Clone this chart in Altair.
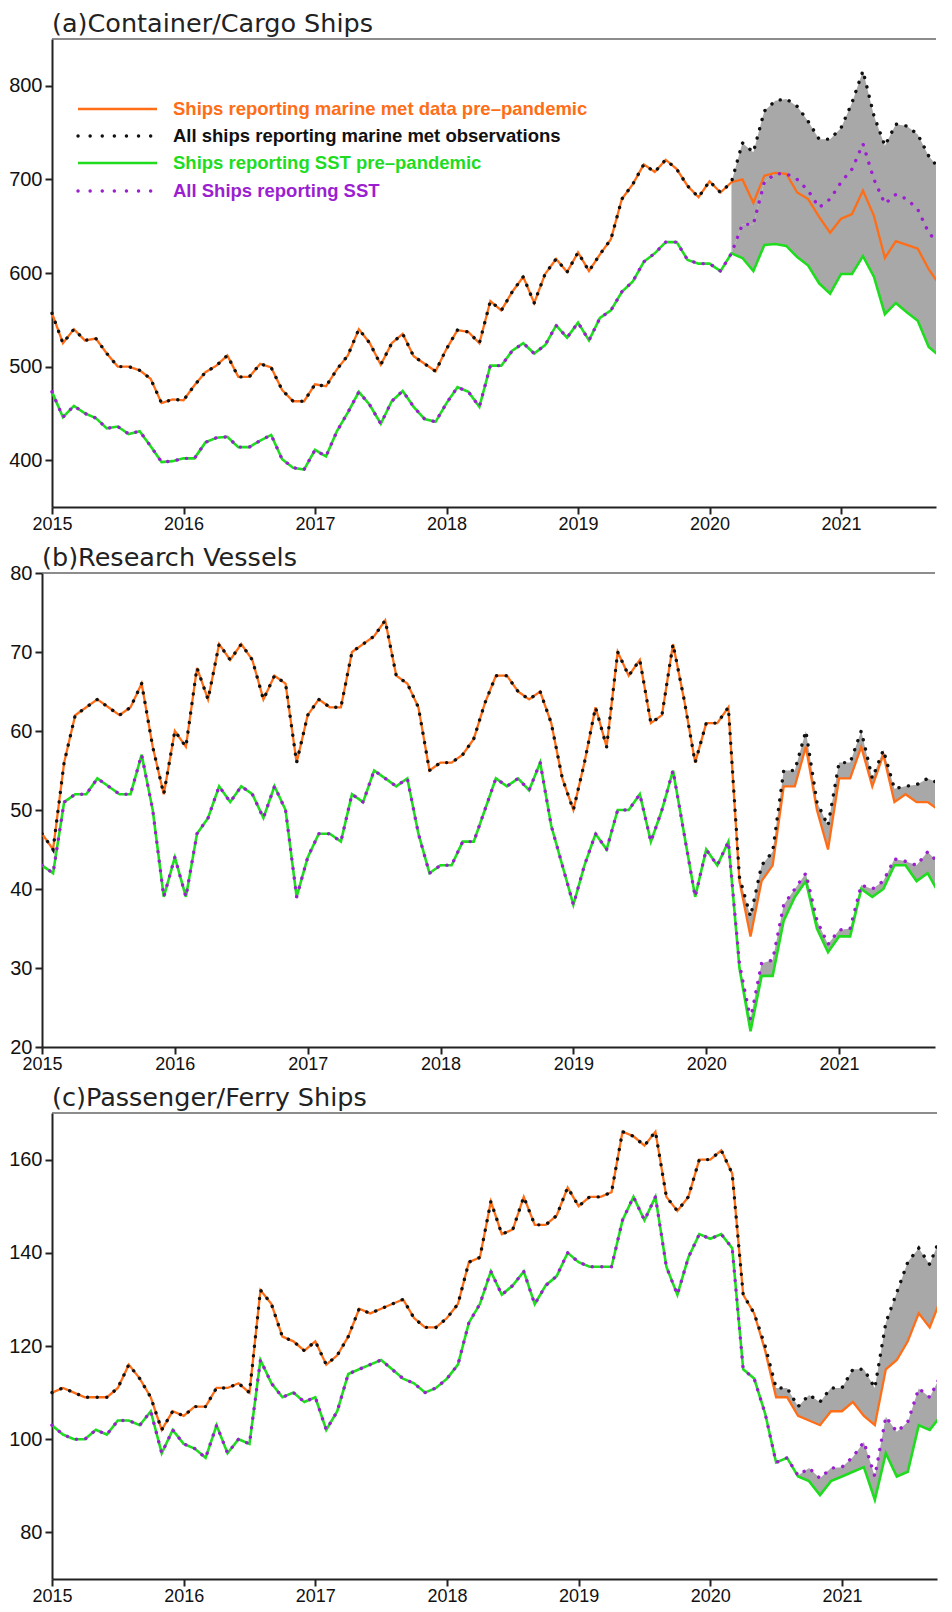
import altair as alt
import pandas as pd

N = 83
MONTH_T = [2015 + i / 12 for i in range(N)]
YEAR_TICKS = [2015, 2016, 2017, 2018, 2019, 2020, 2021]
X_END = 2021.722  # right edge of the visible plot (the figure is cropped there)
SPLIT = 63  # first month where "all ships" differs from pre-pandemic ships

# ---------------- (a) Container/Cargo Ships ----------------
A_PRE_MET = [557, 525, 540, 528, 530, 514, 500, 500, 496, 487, 461, 465,
             464, 480, 494, 501, 512, 489, 489, 503, 499, 475, 463, 463,
             481, 479, 497, 512, 540, 525, 502, 525, 535, 511, 503, 495,
             519, 539, 537, 525, 570, 560, 580, 596, 568, 599, 615, 601,
             622, 602, 620, 636, 679, 695, 716, 708, 721, 711, 693, 681,
             698, 686, 697, 700, 675, 704, 707, 706, 686, 679, 660, 643,
             658, 663, 688, 661, 616, 634, 630, 626, 604, 587, 571]
A_ALL_MET_TAIL = [739, 729, 773, 784, 786, 778, 762, 743, 743, 755, 782, 816,
                  768, 736, 759, 757, 748, 725, 711, 707]
A_PRE_SST = [473, 446, 458, 450, 445, 434, 436, 428, 431, 415, 398, 399,
             402, 402, 419, 424, 425, 414, 414, 421, 427, 401, 392, 390,
             411, 404, 431, 451, 473, 459, 439, 463, 474, 457, 444, 441,
             461, 478, 473, 457, 501, 501, 517, 525, 514, 523, 544, 531,
             547, 528, 552, 560, 580, 591, 612, 621, 633, 633, 614, 610,
             610, 602, 621, 616, 602, 630, 631, 629, 617, 608, 589, 578,
             599, 599, 618, 596, 556, 568, 558, 549, 521, 511, 497]
A_ALL_SST_TAIL = [652, 652, 697, 706, 706, 700, 688, 670, 679, 697, 711, 738,
                  700, 674, 684, 679, 668, 643, 630, 620]

# ---------------- (b) Research Vessels ----------------
B_PRE_MET = [47, 45, 56, 62, 63, 64, 63, 62, 63, 66, 58, 52,
             60, 58, 68, 64, 71, 69, 71, 69, 64, 67, 66, 56,
             62, 64, 63, 63, 70, 71, 72, 74, 67, 66, 63, 55,
             56, 56, 57, 59, 63.5, 67, 67, 65, 64, 65, 61, 54,
             50, 56, 63, 58, 70, 67, 69, 61, 62, 71, 64, 56,
             61, 61, 63, 41, 34, 41, 43, 53, 53, 58, 50, 45,
             54, 54, 58, 53, 57, 51, 52, 51, 51, 50, 49.5]
B_ALL_MET_TAIL = [41.5, 36.5, 43, 44.7, 55, 55, 60, 51, 48, 56, 56, 60,
                  54, 57.6, 52.7, 53, 53.2, 54, 53.4, 52]
B_PRE_SST = [43, 42, 51, 52, 52, 54, 53, 52, 52, 57, 50, 39,
             44, 39, 47, 49, 53, 51, 53, 52, 49, 53, 50, 39,
             44, 47, 47, 46, 52, 51, 55, 54, 53, 54, 47, 42,
             43, 43, 46, 46, 50, 54, 53, 54, 52.5, 56, 48, 43,
             38, 43, 47, 45, 50, 50, 52, 46, 50, 55, 47, 39,
             45, 43, 46, 30, 22, 29, 29, 36, 39, 41, 35, 32,
             34, 34, 40, 39, 40, 43, 43, 41, 42, 39.5, 31]
B_ALL_SST_TAIL = [30.5, 23.5, 30.6, 31, 38, 40, 42, 36, 33, 34.8, 35, 40.5,
                  40, 41, 43.8, 43.5, 43, 44.7, 43.3, 34]

# ---------------- (c) Passenger/Ferry Ships ----------------
C_PRE_MET = [110, 111, 110, 109, 109, 109, 111, 116, 113, 109, 102, 106,
             105, 107, 107, 111, 111, 112, 110, 132, 129, 122, 121, 119,
             121, 116, 118, 122, 128, 127, 128, 129, 130, 126, 124, 124,
             126, 129, 138, 139, 151, 144, 145, 152, 146, 146, 148, 154,
             150, 152, 152, 153, 166, 165, 163, 166, 152, 149, 152, 160,
             160, 162, 157, 131, 127, 119, 109, 109, 105, 104, 103, 106,
             106, 108, 105, 103, 115, 117, 121, 127, 124, 130, 122]
C_ALL_MET_TAIL = [131, 127, 120, 111, 111, 107, 109.5, 108, 111, 111, 115, 115,
                  111, 125, 131.5, 138, 141, 137.5, 143.5, 141]
C_PRE_SST = [103, 101, 100, 100, 102, 101, 104, 104, 103, 106, 97, 102,
             99, 98, 96, 103, 97, 100, 99, 117, 112, 109, 110, 108,
             109, 102, 106, 114, 115, 116, 117, 115, 113, 112, 110, 111,
             113, 116, 125, 129, 136, 131, 133, 136, 129, 133, 135, 140,
             138, 137, 137, 137, 147, 152, 147, 152, 137, 131, 139, 144,
             143, 144, 141, 115, 113, 105.5, 95, 96, 92, 91, 88, 91,
             92, 93, 94, 87, 97, 92, 93, 103, 102, 105, 96]
C_ALL_SST_TAIL = [115, 113, 105.5, 95, 96, 92.2, 93.8, 91.6, 93.8, 94, 96.2, 99.4,
                  92, 104.8, 101.6, 103.7, 110.9, 109, 113.6, 110]

LEGEND_LABELS = ["Ships reporting marine met data pre\u2013pandemic",
                 "All ships reporting marine met observations",
                 "Ships reporting SST pre\u2013pandemic",
                 "All Ships reporting SST"]

ORANGE = "#ff6e17"
GREEN = "#1fdc1f"
PURPLE = "#9b1fd1"
BLACK = "#111111"
GRAY = "#a8a8a8"
AXC = "#222222"


def make_panel(title, pre_met, all_met_tail, pre_sst, all_sst_tail,
               ydom, yvals, x0, span, height, xext=None, legend=False,
               fill_between=False):
    """x0: left end of the x range inside the (shared-origin) plot group."""
    width = x0 + span
    all_met = pre_met[:SPLIT] + all_met_tail
    all_sst = pre_sst[:SPLIT] + all_sst_tail
    df = pd.DataFrame({"t": MONTH_T, "pre_met": pre_met, "all_met": all_met,
                       "pre_sst": pre_sst, "all_sst": all_sst})
    band = df.iloc[SPLIT - 1:]

    xs = alt.Scale(domain=[2015, X_END], range=[x0, width],
                   nice=False, zero=False)
    ys = alt.Scale(domain=ydom, nice=False, zero=False)
    xkw = dict(values=YEAR_TICKS, format="d", grid=False, tickSize=7,
               tickWidth=2, tickColor=AXC, domainColor=AXC, domainWidth=2,
               labelFont="Liberation Sans", labelFontSize=18,
               labelColor="#111111", labelPadding=1, labelFlush=False,
               labelOverlap=False)
    if xext is not None:
        xkw.update(minExtent=xext, maxExtent=xext)
    xax = alt.Axis(**xkw)
    yax = alt.Axis(values=yvals, format="d", grid=False, tickSize=7,
                   tickWidth=2, tickColor=AXC, domainColor=AXC, domainWidth=2,
                   labelFont="Liberation Sans", labelFontSize=20,
                   labelColor="#111111", labelPadding=3, labelFlush=False,
                   labelOverlap=False, minExtent=34, maxExtent=34,
                   offset=-x0)
    X = alt.X("t:Q", scale=xs, axis=xax, title=None)

    def Y(f):
        return alt.Y(f"{f}:Q", scale=ys, axis=yax, title=None)

    layers = []
    pairs = [("all_met", "pre_met"), ("all_sst", "pre_sst")]
    if fill_between:
        pairs.append(("pre_met", "all_sst"))
    for a, b in pairs:
        layers.append(alt.Chart(band).mark_area(color=GRAY, opacity=1,
                                                clip=True).encode(
            x=X, y=Y(a), y2=f"{b}:Q"))
    l_pre_met = alt.Chart(df).mark_line(color=ORANGE, strokeWidth=2.3,
                                        clip=True).encode(x=X, y=Y("pre_met"))
    l_pre_sst = alt.Chart(df).mark_line(color=GREEN, strokeWidth=2.6,
                                        clip=True).encode(x=X, y=Y("pre_sst"))
    l_all_met = alt.Chart(df).mark_line(color=BLACK, strokeWidth=3.4,
                                        strokeDash=[0.1, 9.5],
                                        strokeCap="round", clip=True).encode(
        x=X, y=Y("all_met"))
    l_all_sst = alt.Chart(df).mark_line(color=PURPLE, strokeWidth=3.4,
                                        strokeDash=[0.1, 9.5],
                                        strokeCap="round", clip=True).encode(
        x=X, y=Y("all_sst"))
    one = pd.DataFrame({"k": [0]})
    top = alt.Chart(one).mark_rule(color="#666666", strokeWidth=1.6).encode(
        y=alt.value(0), x=alt.value(x0), x2=alt.value(width))
    ttl = alt.Chart(pd.DataFrame({"label": [title]})).mark_text(
        align="left", baseline="alphabetic", font="DejaVu Sans",
        fontSize=25.5, color="#222222").encode(
        x=alt.value(x0), y=alt.value(-7), text="label:N")
    layers += [l_pre_met, l_pre_sst, l_all_met, l_all_sst, top, ttl]

    if legend:
        rows_y = [70, 97, 124, 152]
        cols = [ORANGE, BLACK, GREEN, PURPLE]
        dashes = [None, [0.1, 12], None, [0.1, 12]]
        for lab, yy, col, dash in zip(LEGEND_LABELS, rows_y, cols, dashes):
            if dash is None:
                rm = alt.Chart(one).mark_rule(color=col, strokeWidth=2.3)
            else:
                rm = alt.Chart(one).mark_rule(color=col, strokeWidth=3.4,
                                              strokeDash=dash, strokeCap="round")
            layers.append(rm.encode(x=alt.value(x0 + 26), x2=alt.value(x0 + 105),
                                    y=alt.value(yy)))
            tdf = pd.DataFrame({"label": [lab]})
            layers.append(alt.Chart(tdf).mark_text(
                align="left", baseline="middle", font="Liberation Sans",
                fontWeight="bold", fontSize=18.5, color=col).encode(
                x=alt.value(x0 + 121), y=alt.value(yy), text="label:N"))

    return alt.layer(*layers).properties(width=width, height=height)


pa = make_panel("(a)Container/Cargo Ships", A_PRE_MET, A_ALL_MET_TAIL,
                A_PRE_SST, A_ALL_SST_TAIL, [350, 850],
                [400, 500, 600, 700, 800], 10, 884, 468, legend=True,
                fill_between=True)
pb = make_panel("(b)Research Vessels", B_PRE_MET, B_ALL_MET_TAIL,
                B_PRE_SST, B_ALL_SST_TAIL, [20, 80],
                [20, 30, 40, 50, 60, 70, 80], 0, 893, 474)
pc = make_panel("(c)Passenger/Ferry Ships", C_PRE_MET, C_ALL_MET_TAIL,
                C_PRE_SST, C_ALL_SST_TAIL, [70, 170],
                [80, 100, 120, 140, 160], 10, 885, 466, xext=22)

chart = alt.concat(pa, pb, pc, columns=1, spacing=13).properties(
    align="none",
    padding={"left": 0, "top": 4, "right": 0, "bottom": 0},
    background="white"
).configure_view(stroke=None)

chart.save("out.html", embed_options={"renderer": "svg", "actions": False})
